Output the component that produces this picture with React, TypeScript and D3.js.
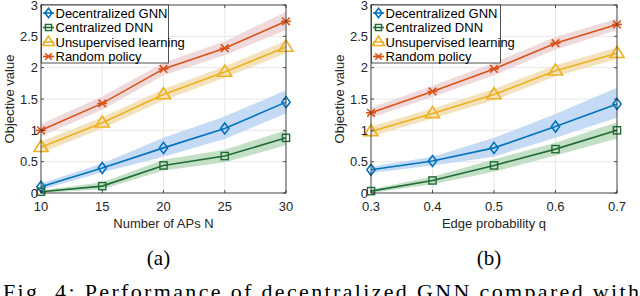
import React from "react";
import * as d3 from "d3";

const seriesNames = ["Decentralized GNN", "Centralized DNN", "Unsupervised learning", "Random policy"];
const colors = ["#0072BD", "#1E6B35", "#EDB120", "#D95319"];
const bandColors = ["#bfd6f4", "#bcdcbf", "#f3dfb6", "#eed5d6"];
const markers = ["diamond", "square", "triangle", "cross"];

const xA = [10, 15, 20, 25, 30];
const xB = [0.3, 0.4, 0.5, 0.6, 0.7];
const yTicks = [0, 0.5, 1, 1.5, 2, 2.5, 3];

// Panel (a)
const aGNN = [0.1, 0.4, 0.72, 1.03, 1.45];
const aGNNlo = [0.05, 0.33, 0.58, 0.86, 1.27];
const aGNNhi = [0.15, 0.47, 0.88, 1.22, 1.64];
const aDNN = [0.02, 0.11, 0.44, 0.59, 0.88];
const aDNNlo = [0.0, 0.06, 0.36, 0.49, 0.76];
const aDNNhi = [0.04, 0.17, 0.53, 0.69, 1.0];
const aUns = [0.73, 1.12, 1.57, 1.93, 2.33];
const aUnslo = [0.64, 1.03, 1.48, 1.84, 2.23];
const aUnshi = [0.82, 1.21, 1.66, 2.02, 2.43];
const aRnd = [1.0, 1.43, 1.98, 2.31, 2.74];
const aRndlo = [0.9, 1.33, 1.88, 2.2, 2.6];
const aRndhi = [1.1, 1.54, 2.08, 2.42, 2.89];

// Panel (b)
const bGNN = [0.37, 0.51, 0.72, 1.06, 1.42];
const bGNNlo = [0.32, 0.44, 0.58, 0.88, 1.2];
const bGNNhi = [0.42, 0.58, 0.88, 1.26, 1.68];
const bDNN = [0.03, 0.2, 0.44, 0.7, 1.0];
const bDNNlo = [0.0, 0.14, 0.34, 0.6, 0.87];
const bDNNhi = [0.06, 0.26, 0.54, 0.8, 1.13];
const bUns = [0.98, 1.27, 1.57, 1.95, 2.23];
const bUnslo = [0.9, 1.19, 1.48, 1.86, 2.14];
const bUnshi = [1.06, 1.35, 1.66, 2.04, 2.32];
const bRnd = [1.28, 1.62, 1.98, 2.39, 2.69];
const bRndlo = [1.2, 1.53, 1.88, 2.29, 2.6];
const bRndhi = [1.36, 1.71, 2.08, 2.49, 2.78];

const FONT = "'Liberation Sans', Arial, sans-serif";
const TXT = "#262626";

function Marker({ type, x, y, color, s = 1 }: { type: string; x: number; y: number; color: string; s?: number }) {
  if (type === "diamond") {
    const r = 5.5 * s;
    return <path d={`M${x},${y - r}L${x + r * 0.75},${y}L${x},${y + r}L${x - r * 0.75},${y}Z`} fill="none" stroke={color} strokeWidth={1.6} />;
  }
  if (type === "square") {
    const r = 3.6 * s;
    return <rect x={x - r} y={y - r} width={2 * r} height={2 * r} fill="none" stroke={color} strokeWidth={1.4} />;
  }
  if (type === "triangle") {
    const r = 7 * s;
    return <path d={`M${x},${y - r}L${x + r},${y + r * 0.6}L${x - r},${y + r * 0.6}Z`} fill="none" stroke={color} strokeWidth={1.6} />;
  }
  const r = 3.8 * s;
  return (
    <g stroke={color} strokeWidth={1.6}>
      <line x1={x - r} y1={y - r} x2={x + r} y2={y + r} />
      <line x1={x - r} y1={y + r} x2={x + r} y2={y - r} />
      <line x1={x - r * 1.3} y1={y} x2={x + r * 1.3} y2={y} />
    </g>
  );
}

type Series = { mean: number[]; lo: number[]; hi: number[] };

function Panel({
  left, right, xs, series, xTickFmt, xLabel, panelLabel, yLabelX, legendW,
}: {
  left: number; right: number; xs: number[]; series: Series[]; xTickFmt: (v: number) => string;
  xLabel: string; panelLabel: string; yLabelX: number; legendW: number;
}) {
  const top = 5, bottom = 193;
  const x = d3.scaleLinear().domain([xs[0], xs[xs.length - 1]]).range([left, right]);
  const y = d3.scaleLinear().domain([0, 3]).range([bottom, top]);
  const line = d3.line<number>().x((_, i) => x(xs[i])).y((d) => y(d));
  const area = (s: Series) =>
    d3.area<number>().x((_, i) => x(xs[i])).y0((_, i) => y(s.lo[i])).y1((_, i) => y(s.hi[i]))(s.mean) || "";
  const cx = (left + right) / 2;
  const legendItemsY = [13, 27.5, 42, 56.5];
  return (
    <g>
      {xs.map((v) => (
        <line key={"gx" + v} x1={x(v)} x2={x(v)} y1={top} y2={bottom} stroke="#e8e8e8" strokeWidth={1} />
      ))}
      {yTicks.map((v) => (
        <line key={"gy" + v} x1={left} x2={right} y1={y(v)} y2={y(v)} stroke="#e8e8e8" strokeWidth={1} />
      ))}
      {series.map((s, i) => (
        <path key={"b" + i} d={area(s)} fill={bandColors[i]} opacity={0.9} />
      ))}
      {series.map((s, i) => (
        <path key={"l" + i} d={line(s.mean) || ""} fill="none" stroke={colors[i]} strokeWidth={1.6} />
      ))}
      {series.map((s, i) =>
        s.mean.map((v, j) => <Marker key={"m" + i + "-" + j} type={markers[i]} x={x(xs[j])} y={y(v)} color={colors[i]} />)
      )}
      <rect x={left} y={top} width={right - left} height={bottom - top} fill="none" stroke="#262626" strokeWidth={0.8} />
      {xs.map((v) => (
        <g key={"tx" + v}>
          <line x1={x(v)} x2={x(v)} y1={bottom} y2={bottom - 3} stroke="#262626" strokeWidth={0.8} />
          <line x1={x(v)} x2={x(v)} y1={top} y2={top + 3} stroke="#262626" strokeWidth={0.8} />
          <text x={x(v)} y={211} textAnchor="middle" fontFamily={FONT} fontSize={13} fill={TXT}>{xTickFmt(v)}</text>
        </g>
      ))}
      {yTicks.map((v) => (
        <g key={"ty" + v}>
          <line x1={left} x2={left + 3} y1={y(v)} y2={y(v)} stroke="#262626" strokeWidth={0.8} />
          <line x1={right} x2={right - 3} y1={y(v)} y2={y(v)} stroke="#262626" strokeWidth={0.8} />
          <text x={left - 3} y={y(v) + 4.5} textAnchor="end" fontFamily={FONT} fontSize={13} fill={TXT}>{String(v)}</text>
        </g>
      ))}
      <text x={cx} y={228} textAnchor="middle" fontFamily={FONT} fontSize={13} fill={TXT}>{xLabel}</text>
      <text transform={`translate(${yLabelX},${(top + bottom) / 2}) rotate(-90)`} textAnchor="middle" fontFamily={FONT} fontSize={13} fill={TXT}>Objective value</text>
      <text x={cx - 5} y={265} textAnchor="middle" fontFamily="'Liberation Serif', 'Times New Roman', serif" fontSize={21} fill="#000">{panelLabel}</text>
      <rect x={left + 0.5} y={top} width={legendW} height={58} fill="#fff" stroke="#262626" strokeWidth={0.8} />
      {seriesNames.map((n, i) => (
        <g key={"lg" + i}>
          <line x1={left + 2} x2={left + 13} y1={legendItemsY[i]} y2={legendItemsY[i]} stroke={colors[i]} strokeWidth={1.6} />
          <Marker type={markers[i]} x={left + 7.5} y={legendItemsY[i]} color={colors[i]} s={0.85} />
          <text x={left + 14.5} y={legendItemsY[i] + 4.5} fontFamily={FONT} fontSize={13} fill="#000">{n}</text>
        </g>
      ))}
    </g>
  );
}

export default function App() {
  const seriesA: Series[] = [
    { mean: aGNN, lo: aGNNlo, hi: aGNNhi },
    { mean: aDNN, lo: aDNNlo, hi: aDNNhi },
    { mean: aUns, lo: aUnslo, hi: aUnshi },
    { mean: aRnd, lo: aRndlo, hi: aRndhi },
  ];
  const seriesB: Series[] = [
    { mean: bGNN, lo: bGNNlo, hi: bGNNhi },
    { mean: bDNN, lo: bDNNlo, hi: bDNNhi },
    { mean: bUns, lo: bUnslo, hi: bUnshi },
    { mean: bRnd, lo: bRndlo, hi: bRndhi },
  ];
  return (
    <svg width={640} height={296} style={{ position: "absolute", left: 0, top: 0, background: "#fff" }}>
      <rect width={640} height={296} fill="#fff" />
      <Panel left={41} right={286} xs={xA} series={seriesA} xTickFmt={(v) => String(v)} xLabel="Number of APs N" panelLabel="(a)" yLabelX={14} legendW={127} />
      <Panel left={371} right={617} xs={xB} series={seriesB} xTickFmt={(v) => d3.format(".1f")(v)} xLabel="Edge probability q" panelLabel="(b)" yLabelX={344} legendW={129} />
      <text x={3} y={299} fontFamily="'Liberation Serif', 'Times New Roman', serif" fontSize={22} fill="#000" textLength={636} lengthAdjust="spacing">Fig. 4:  Performance of decentralized GNN compared with</text>
    </svg>
  );
}
